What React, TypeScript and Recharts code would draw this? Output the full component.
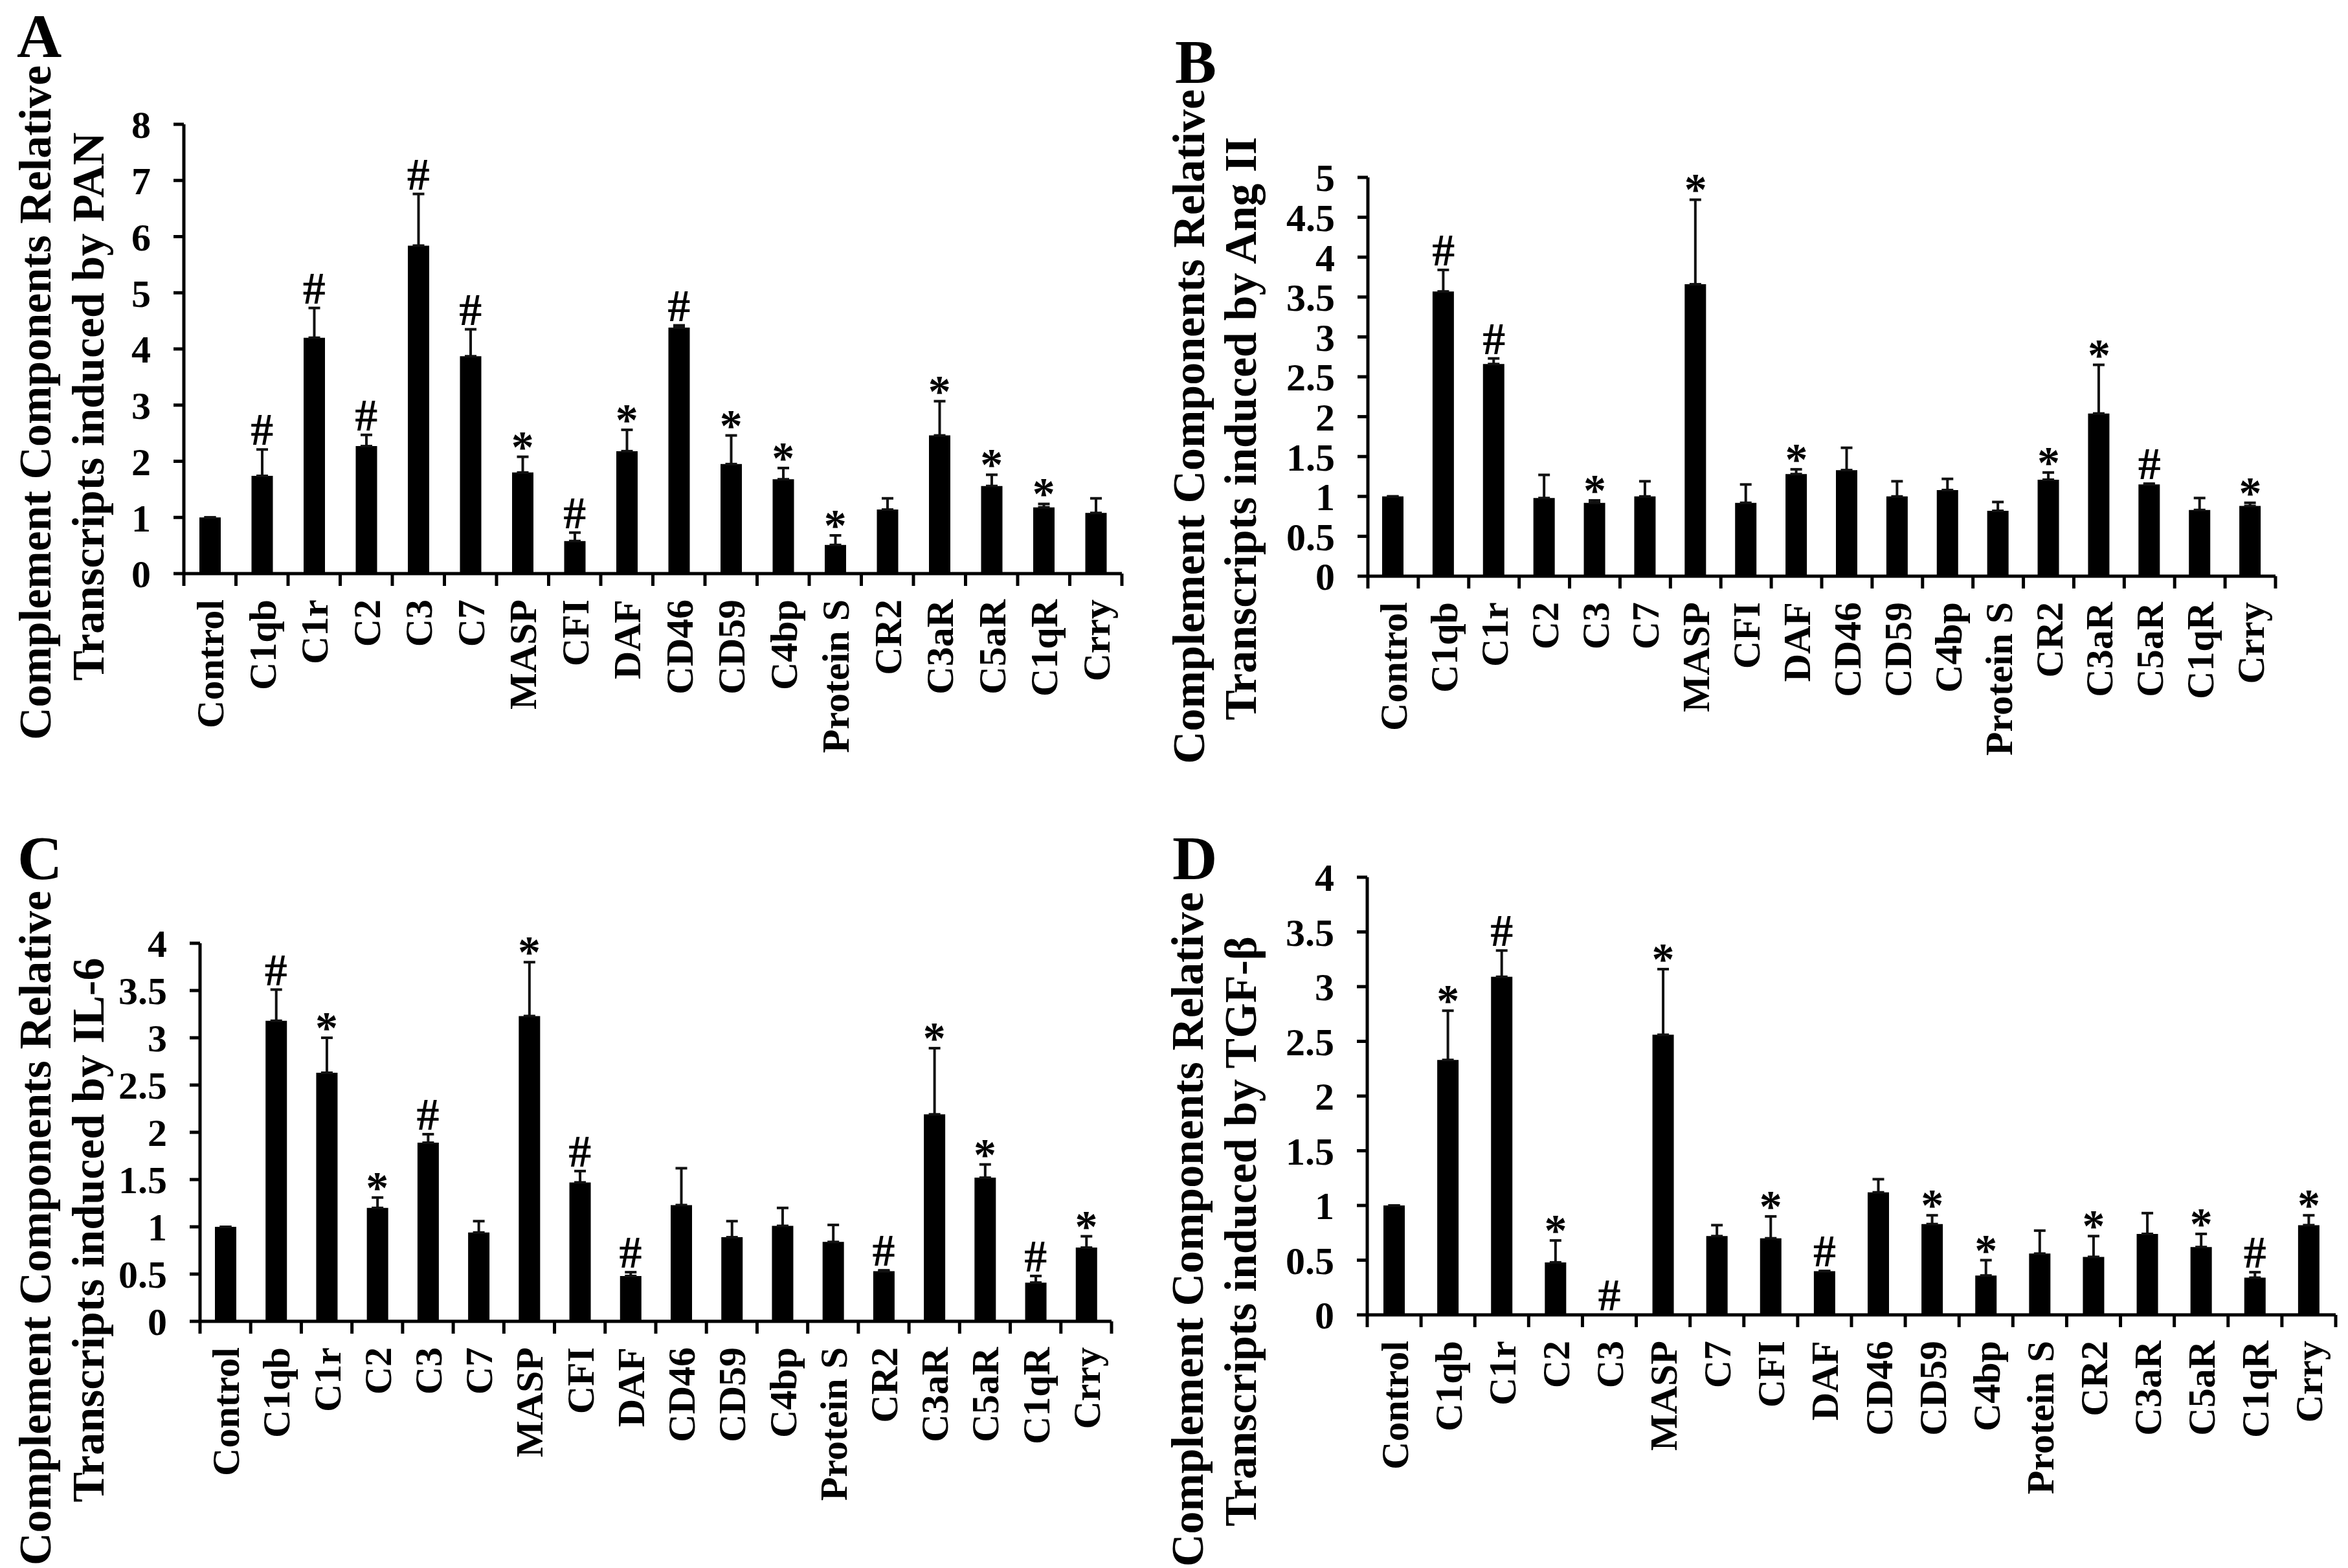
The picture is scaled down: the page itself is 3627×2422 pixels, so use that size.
import React from "react";
import { ComposedChart, Bar, Line, XAxis, YAxis, ErrorBar, LabelList } from "recharts";

const font = "'Liberation Serif', 'Times New Roman', serif";

// categories (panel D swaps MASP and C7)
const genes = ["Control", "C1qb", "C1r", "C2", "C3", "C7", "MASP", "CFI", "DAF", "CD46", "CD59", "C4bp", "Protein S", "CR2", "C3aR", "C5aR", "C1qR", "Crry"];
const genesD = ["Control", "C1qb", "C1r", "C2", "C3", "MASP", "C7", "CFI", "DAF", "CD46", "CD59", "C4bp", "Protein S", "CR2", "C3aR", "C5aR", "C1qR", "Crry"];

// A - PAN
const panValues = [1.0, 1.74, 4.2, 2.27, 5.84, 3.87, 1.8, 0.58, 2.18, 4.38, 1.95, 1.68, 0.51, 1.14, 2.46, 1.56, 1.18, 1.08];
const panSD = [0, 0.47, 0.53, 0.2, 0.92, 0.48, 0.28, 0.15, 0.38, 0.04, 0.51, 0.2, 0.17, 0.2, 0.61, 0.2, 0.06, 0.26];
const panMarks = ["", "#", "#", "#", "#", "#", "*", "#", "*", "#", "*", "*", "*", "", "*", "*", "*", ""];

// B - Ang II
const angValues = [1.0, 3.57, 2.66, 0.98, 0.92, 1.0, 3.66, 0.92, 1.28, 1.33, 1.0, 1.08, 0.82, 1.21, 2.04, 1.15, 0.83, 0.88];
const angSD = [0, 0.27, 0.07, 0.29, 0.03, 0.19, 1.06, 0.23, 0.06, 0.28, 0.19, 0.14, 0.11, 0.09, 0.61, 0.01, 0.15, 0.04];
const angMarks = ["", "#", "#", "", "*", "", "*", "", "*", "", "", "", "", "*", "*", "#", "", "*"];

// C - IL-6
const il6Values = [1.0, 3.18, 2.63, 1.2, 1.89, 0.94, 3.23, 1.47, 0.48, 1.23, 0.89, 1.01, 0.84, 0.53, 2.19, 1.52, 0.41, 0.78];
const il6SD = [0, 0.33, 0.37, 0.11, 0.09, 0.12, 0.57, 0.12, 0.04, 0.39, 0.17, 0.19, 0.18, 0.01, 0.7, 0.14, 0.07, 0.12];
const il6Marks = ["", "#", "*", "*", "#", "", "*", "#", "#", "", "", "", "", "#", "*", "*", "#", "*"];

// D - TGF-beta
const tgfValues = [1.0, 2.33, 3.09, 0.48, 0, 2.56, 0.72, 0.7, 0.4, 1.12, 0.83, 0.36, 0.56, 0.53, 0.74, 0.62, 0.34, 0.82];
const tgfSD = [0, 0.45, 0.24, 0.2, 0, 0.6, 0.1, 0.2, 0, 0.12, 0.08, 0.14, 0.21, 0.19, 0.19, 0.12, 0.05, 0.09];
const tgfMarks = ["", "*", "#", "*", "#", "*", "", "*", "#", "", "*", "*", "", "*", "", "*", "#", "*"];

const ticks8 = [0, 1, 2, 3, 4, 5, 6, 7, 8];
const ticks5 = [0, 0.5, 1, 1.5, 2, 2.5, 3, 3.5, 4, 4.5, 5];
const ticks4 = [0, 0.5, 1, 1.5, 2, 2.5, 3, 3.5, 4];

function buildRows(cats: string[], vals: number[], sds: number[], marks: string[]) {
  return cats.map((name, i) => ({
    name,
    value: vals[i],
    err: [0, sds[i]],
    top: vals[i] + sds[i],
    mark: marks[i],
  }));
}

const CatTick = (props: any) => {
  const { x, y, payload, width, visibleTicksCount, index } = props;
  const half = payload && typeof payload.offset === "number" && payload.offset > 0 ? payload.offset : width / visibleTicksCount / 2;
  return (
    <g>
      <line x1={x - half} x2={x - half} y1={y} y2={y + 19} stroke="#000" strokeWidth={5} />
      {index === visibleTicksCount - 1 && (
        <line x1={x + half} x2={x + half} y1={y} y2={y + 19} stroke="#000" strokeWidth={5} />
      )}
      <text
        transform={`translate(${x},${y + 40}) rotate(-90)`}
        textAnchor="end"
        dy="0.35em"
        fontSize={60}
        fontWeight={700}
        fontFamily={font}
        fill="#000"
      >
        {payload.value}
      </text>
    </g>
  );
};

const MarkLabel = (p: any) => {
  if (!p.value) return null;
  const dy = p.value === "*" ? 8 : -7;
  return (
    <text x={p.x} y={p.y + dy} textAnchor="middle" fontSize={70} fontWeight={700} fontFamily={font} fill="#000">
      {p.value}
    </text>
  );
};

type Plot = { x: number; y: number; w: number; h: number };

function Panel({ rows, ticks, max, plot }: { rows: any[]; ticks: number[]; max: number; plot: Plot }) {
  const yw = 150;
  const mt = 60;
  const mr = 15;
  const xh = 280;
  return (
    <div style={{ position: "absolute", left: plot.x - yw, top: plot.y - mt }}>
      <ComposedChart
        width={plot.w + yw + mr}
        height={plot.h + mt + xh}
        data={rows}
        margin={{ top: mt, right: mr, left: 0, bottom: 0 }}
        barCategoryGap={0}
      >
        <XAxis
          dataKey="name"
          type="category"
          height={xh}
          interval={0}
          tickLine={false}
          tickSize={0}
          tickMargin={0}
          axisLine={{ stroke: "#000", strokeWidth: 5 }}
          tick={<CatTick />}
        />
        <YAxis
          width={yw}
          type="number"
          domain={[0, max]}
          ticks={ticks}
          interval={0}
          tickSize={16}
          tickMargin={35}
          axisLine={{ stroke: "#000", strokeWidth: 5 }}
          tickLine={{ stroke: "#000", strokeWidth: 5 }}
          tick={{ fontSize: 60, fontWeight: 700, fontFamily: font, fill: "#000" }}
        />
        <Bar dataKey="value" fill="#000" barSize={33} isAnimationActive={false}>
          <ErrorBar dataKey="err" direction="y" width={9} stroke="#111" strokeWidth={4} />
        </Bar>
        <Line dataKey="top" stroke="none" dot={false} activeDot={false} isAnimationActive={false} legendType="none">
          <LabelList dataKey="mark" content={MarkLabel} />
        </Line>
      </ComposedChart>
    </div>
  );
}

const Title = ({ x1, x2, cy1, cy2, line2 }: { x1: number; x2: number; cy1: number; cy2: number; line2: string }) => (
  <g fontFamily={font} fontWeight={700} fontSize={70} fill="#000">
    <text transform={`translate(${x1},${cy1}) rotate(-90)`} textAnchor="middle">
      Complement Components Relative
    </text>
    <text transform={`translate(${x2},${cy2}) rotate(-90)`} textAnchor="middle">
      {line2}
    </text>
  </g>
);

const Letter = ({ x, y, t }: { x: number; y: number; t: string }) => (
  <text x={x} y={y} fontFamily={font} fontWeight={700} fontSize={96} fill="#000">
    {t}
  </text>
);

export default function App() {
  return (
    <div style={{ position: "relative", width: 3627, height: 2422, background: "#fff", overflow: "hidden" }}>
      <style>{"body{margin:0}"}</style>
      <Panel rows={buildRows(genes, panValues, panSD, panMarks)} ticks={ticks8} max={8} plot={{ x: 284, y: 192, w: 1449, h: 694 }} />
      <Panel rows={buildRows(genes, angValues, angSD, angMarks)} ticks={ticks5} max={5} plot={{ x: 2113, y: 274, w: 1402, h: 616 }} />
      <Panel rows={buildRows(genes, il6Values, il6SD, il6Marks)} ticks={ticks4} max={4} plot={{ x: 309, y: 1457, w: 1408, h: 584 }} />
      <Panel rows={buildRows(genesD, tgfValues, tgfSD, tgfMarks)} ticks={ticks4} max={4} plot={{ x: 2112, y: 1355, w: 1496, h: 676 }} />
      <svg width={3627} height={2422} style={{ position: "absolute", left: 0, top: 0, pointerEvents: "none" }}>
        <Letter x={26} y={88} t="A" />
        <Letter x={1815} y={128} t="B" />
        <Letter x={27} y={1358} t="C" />
        <Letter x={1811} y={1358} t="D" />
        <Title x1={78} x2={160} cy1={622} cy2={628} line2="Transcripts induced by PAN" />
        <Title x1={1860} x2={1940} cy1={659} cy2={662} line2="Transcripts induced by Ang II" />
        <Title x1={78} x2={160} cy1={1897} cy2={1900} line2="Transcripts induced by IL-6" />
        <Title x1={1858} x2={1940} cy1={1899} cy2={1902} line2="Transcripts induced by TGF-β" />
      </svg>
    </div>
  );
}
